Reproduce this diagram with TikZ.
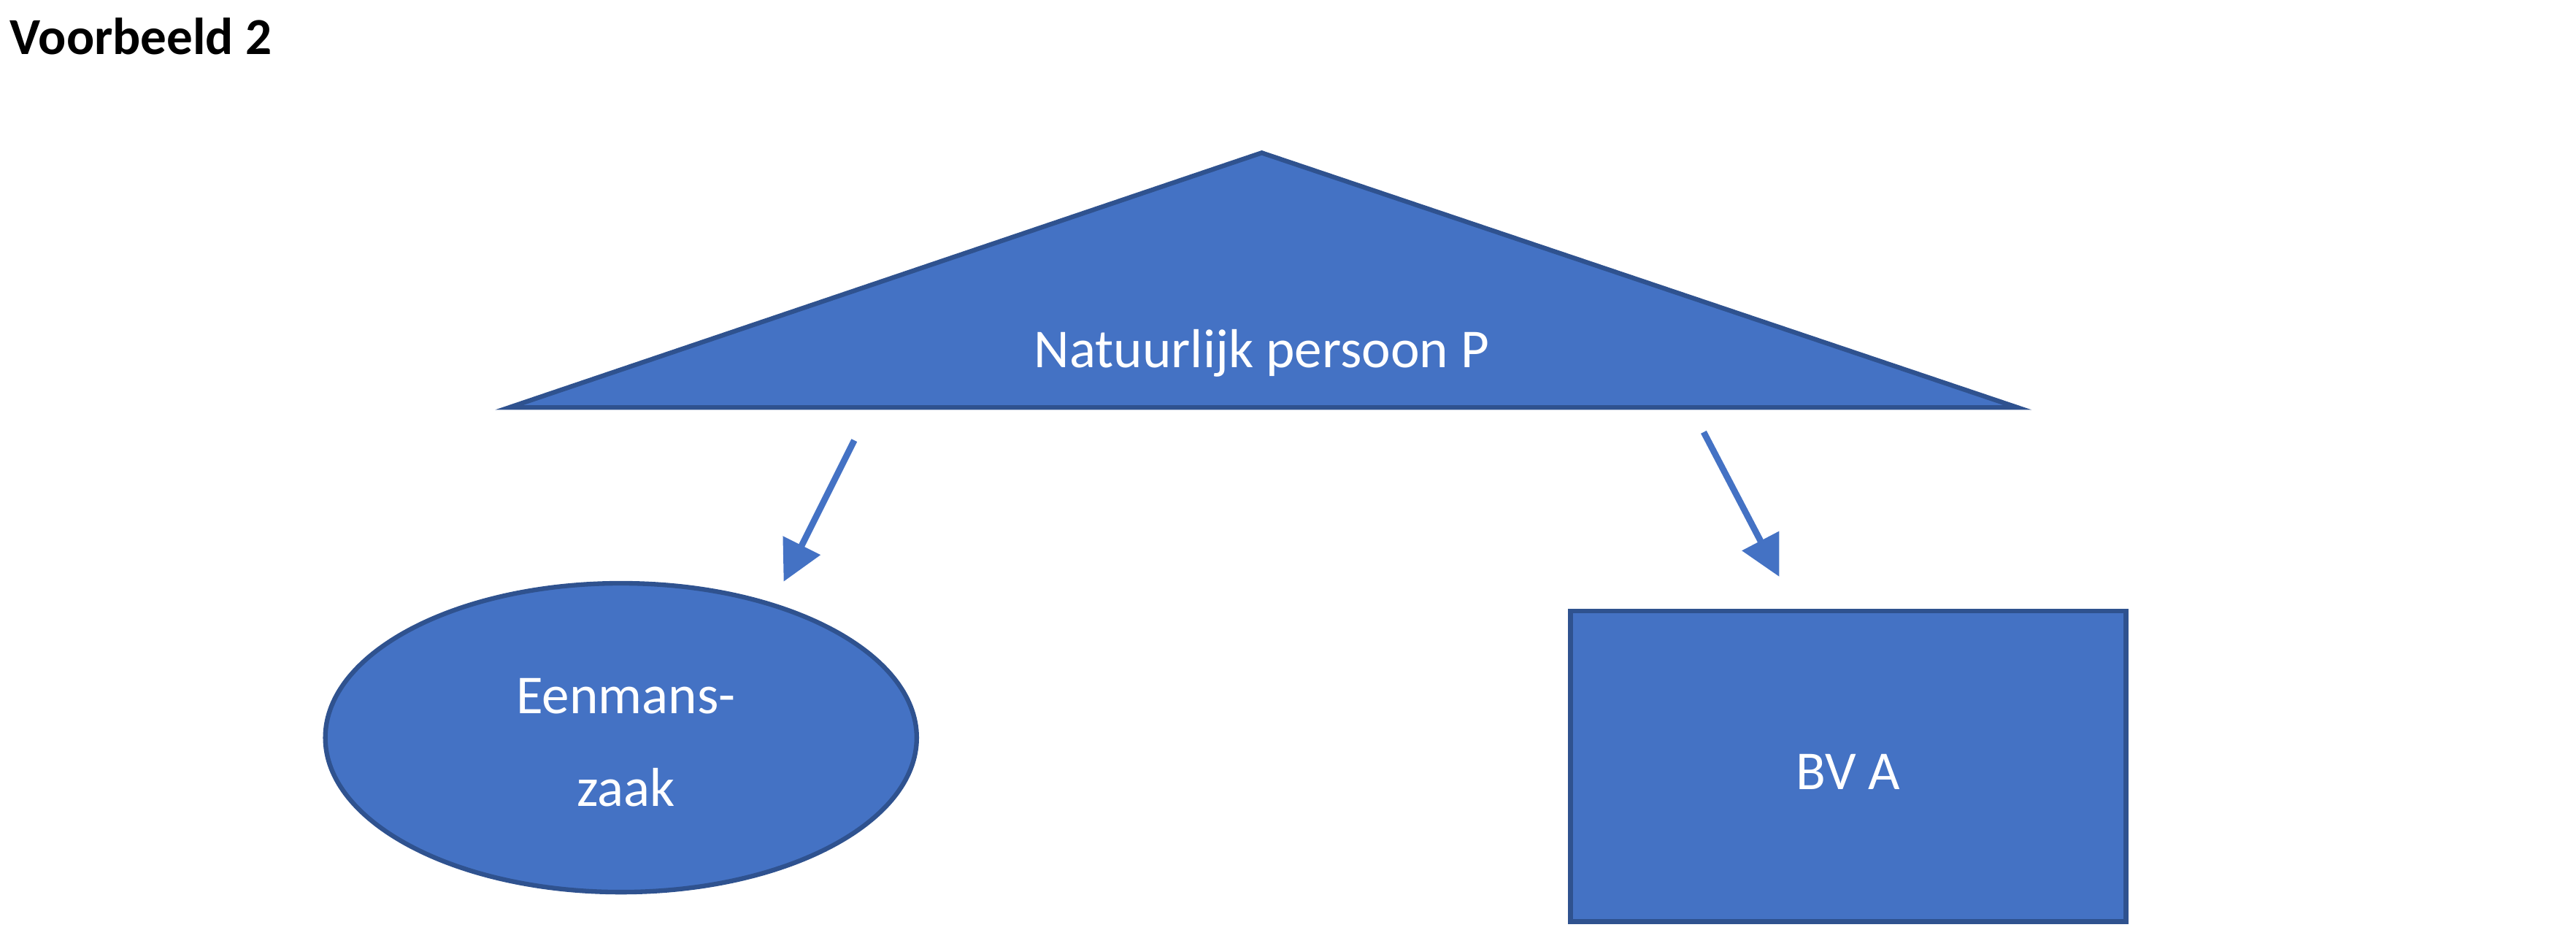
\documentclass[tikz,border=0pt]{standalone}
\usepackage{fontspec}
\setmainfont{Carlito}
\usetikzlibrary{arrows.meta}
\definecolor{fillb}{HTML}{4472C4}
\definecolor{edgeb}{HTML}{2F528F}
\tikzset{shapeb/.style={fill=fillb,draw=edgeb,line width=1.6pt},
lbl/.style={text=white,font=\fontsize{19}{23}\selectfont},
arr/.style={draw=fillb,line width=2.2pt,-{Triangle[length=14pt,width=14pt]}}}
\begin{document}
\begin{tikzpicture}[x=0.02cm,y=-0.02cm]
\useasboundingbox (0,0) rectangle (1568,566);
\node[anchor=west,font=\bfseries\fontsize{18}{22}\selectfont] (title) at (0,22) {Voorbeeld 2};
\draw[shapeb] (310,248) -- (768,93) -- (1228,248) -- cycle;
\node[lbl] (np) at (768,215) {Natuurlijk persoon P};
\draw[shapeb] (378,449) ellipse [x radius=180, y radius=94];
\node[lbl,align=center,font=\fontsize{19}{32}\selectfont] (ez) at (381,452) {Eenmans-\\zaak};
\draw[shapeb] (956,372) rectangle (1294,561);
\node[lbl] (bv) at (1125,470) {BV A};
\coordinate (a1) at (520,268); \coordinate (a1e) at (477,354);
\coordinate (a2) at (1037,263); \coordinate (a2e) at (1083,351);
\draw[arr] (a1) -- (a1e);
\draw[arr] (a2) -- (a2e);
\end{tikzpicture}
\end{document}
